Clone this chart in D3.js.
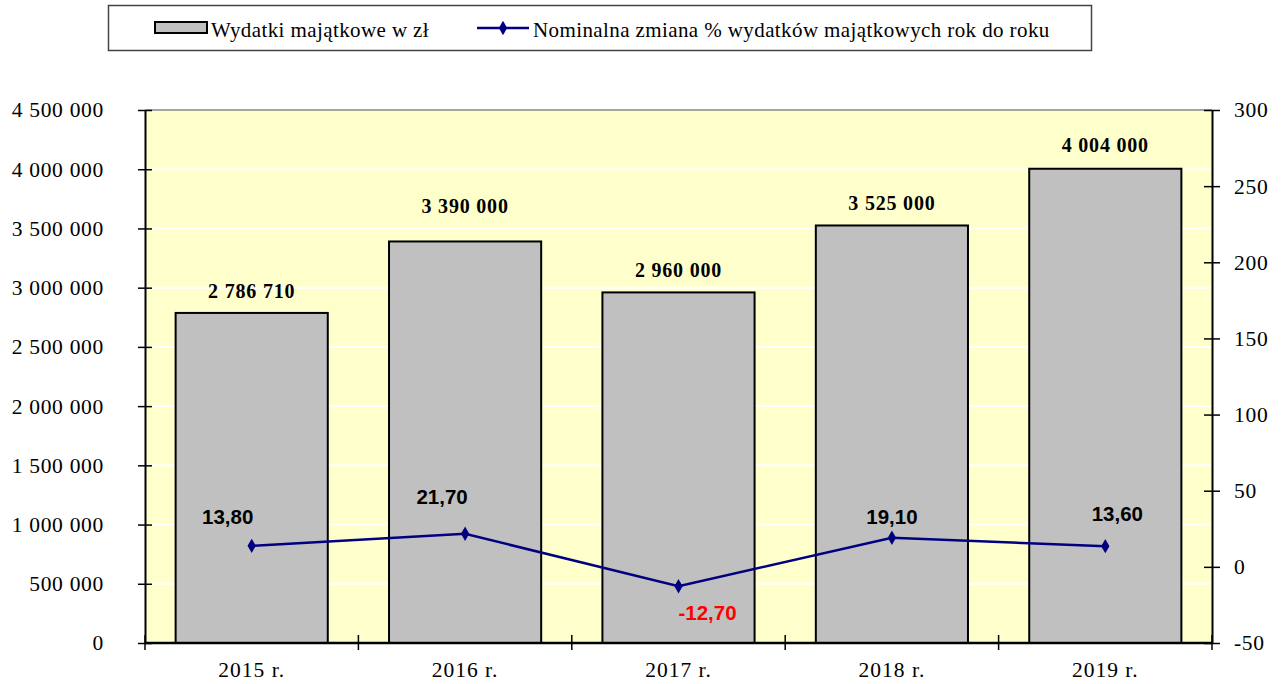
<!DOCTYPE html>
<html>
<head>
<meta charset="utf-8">
<script src="https://cdn.jsdelivr.net/npm/d3@7/dist/d3.min.js"></script>
<style>
  html, body { margin: 0; padding: 0; background: #ffffff; }
  svg { display: block; }
  .serif { font-family: "Liberation Serif", "Times New Roman", Times, serif; }
  .sans { font-family: "Liberation Sans", Arial, Helvetica, sans-serif; }
</style>
</head>
<body>
<svg id="chart" width="1285" height="684"></svg>
<script>
// Capital expenditure per year and its nominal year-over-year change
const years = ["2015 r.", "2016 r.", "2017 r.", "2018 r.", "2019 r."];
const spending = [2786710, 3390000, 2960000, 3525000, 4004000];
const changePct = [13.8, 21.7, -12.7, 19.1, 13.6];
const leftTicks = [0, 500000, 1000000, 1500000, 2000000, 2500000, 3000000, 3500000, 4000000, 4500000];
const rightTicks = [-50, 0, 50, 100, 150, 200, 250, 300];
const seriesNames = ["Wydatki majątkowe w zł", "Nominalna zmiana % wydatków majątkowych rok do roku"];

const svg = d3.select("#chart");
const plot = { left: 145, right: 1212, top: 110, bottom: 643 };

const x = d3.scaleBand().domain(years).range([plot.left, plot.right]).paddingInner(0.287).paddingOuter(0.1435);
const xBand = d3.scaleBand().domain(years).range([plot.left, plot.right]);
const yL = d3.scaleLinear().domain([0, 4500000]).range([plot.bottom, plot.top]);
const yR = d3.scaleLinear().domain([-50, 300]).range([plot.bottom, plot.top]);

const fmtSpace = v => d3.format(",")(v).replace(/,/g, "\u00a0");
const fmtComma = v => (v < 0 ? "-" : "") + d3.format(".2f")(Math.abs(v)).replace(".", ",");

// Plot background
svg.append("rect")
  .attr("x", plot.left).attr("y", plot.top)
  .attr("width", plot.right - plot.left).attr("height", plot.bottom - plot.top)
  .attr("fill", "#ffffcc");

// Horizontal gridlines
svg.append("g").selectAll("line").data(leftTicks.slice(1, -1)).join("line")
  .attr("x1", plot.left).attr("x2", plot.right)
  .attr("y1", d => yL(d)).attr("y2", d => yL(d))
  .attr("stroke", "#ffffff").attr("stroke-width", 2);

// Top border
svg.append("line")
  .attr("x1", plot.left).attr("x2", plot.right)
  .attr("y1", plot.top).attr("y2", plot.top)
  .attr("stroke", "#888888").attr("stroke-width", 1.5);

// Bars
svg.append("g").selectAll("rect").data(spending).join("rect")
  .attr("x", (d, i) => x(years[i]))
  .attr("y", d => yL(d))
  .attr("width", x.bandwidth())
  .attr("height", d => yL(0) - yL(d))
  .attr("fill", "#c0c0c0")
  .attr("stroke", "#000000").attr("stroke-width", 2);

// Left axis
const axL = svg.append("g").attr("transform", `translate(${plot.left},0)`)
  .call(d3.axisLeft(yL).tickValues(leftTicks).tickFormat(fmtSpace).tickSizeInner(7).tickSizeOuter(0).tickPadding(34));
axL.attr("font-family", null);
axL.selectAll(".tick line").attr("x2", 7).attr("x1", -7).attr("stroke-width", 1.5);
axL.select(".domain").attr("stroke-width", 2);
axL.selectAll("text").attr("class", "serif").attr("font-size", 21.5)
  .attr("letter-spacing", 0.7).attr("fill", "#000");

// Right axis
const axR = svg.append("g").attr("transform", `translate(${plot.right},0)`)
  .call(d3.axisRight(yR).tickValues(rightTicks).tickFormat(d => (d < 0 ? "-" : "") + Math.abs(d)).tickSizeInner(8).tickSizeOuter(0).tickPadding(14));
axR.attr("font-family", null);
axR.selectAll(".tick line").attr("x1", -8).attr("x2", 8).attr("stroke-width", 1.5);
axR.select(".domain").attr("stroke-width", 2);
axR.selectAll("text").attr("class", "serif").attr("font-size", 21.5)
  .attr("letter-spacing", 0.7).attr("fill", "#000");

// Bottom axis with ticks at category boundaries
const axB = svg.append("g").attr("transform", `translate(0,${plot.bottom})`);
axB.append("line").attr("x1", plot.left).attr("x2", plot.right).attr("stroke", "#000").attr("stroke-width", 2.5);
const bounds = years.map(c => xBand(c)).concat([plot.right]);
axB.selectAll("line.tk").data(bounds).join("line").attr("class", "tk")
  .attr("x1", d => d).attr("x2", d => d).attr("y1", -8).attr("y2", 7)
  .attr("stroke", "#000").attr("stroke-width", 1.5);
axB.selectAll("text").data(years).join("text")
  .attr("class", "serif")
  .attr("x", d => xBand(d) + xBand.bandwidth() / 2).attr("y", 34)
  .attr("text-anchor", "middle")
  .attr("font-size", 21.5).attr("letter-spacing", 1).text(d => d);

// Bar value labels
const barLabelLift = [22, 35, 22, 22, 24];
svg.append("g").selectAll("text").data(spending).join("text")
  .attr("class", "serif")
  .attr("x", (d, i) => x(years[i]) + x.bandwidth() / 2)
  .attr("y", (d, i) => yL(d) - barLabelLift[i] + 7)
  .attr("text-anchor", "middle")
  .attr("font-weight", "bold").attr("font-size", 20).attr("letter-spacing", 0.8)
  .text(d => fmtSpace(d));

// Percentage change line
const cx = i => xBand(years[i]) + xBand.bandwidth() / 2;
svg.append("path").datum(changePct)
  .attr("d", d3.line().x((d, i) => cx(i)).y(d => yR(d)))
  .attr("fill", "none").attr("stroke", "#000080").attr("stroke-width", 2.5);
svg.append("g").selectAll("path").data(changePct).join("path")
  .attr("transform", (d, i) => `translate(${cx(i)},${yR(d)})`)
  .attr("d", d3.symbol().type(d3.symbolDiamond).size(60))
  .attr("fill", "#000080");

// Percentage labels
const pctDx = [-24, -23, 29, 0, 12];
const pctDy = [-29, -37, 26, -21, -33];
svg.append("g").selectAll("text").data(changePct).join("text")
  .attr("class", "sans")
  .attr("x", (d, i) => cx(i) + pctDx[i])
  .attr("y", (d, i) => yR(d) + pctDy[i] + 7.5)
  .attr("text-anchor", "middle")
  .attr("font-weight", "bold").attr("font-size", 20.5)
  .attr("fill", d => d < 0 ? "#ff0000" : "#000000")
  .text(d => fmtComma(d));

// Legend
const lg = svg.append("g");
lg.append("rect").attr("x", 108.5).attr("y", 5.5).attr("width", 983).attr("height", 45)
  .attr("fill", "#fff").attr("stroke", "#444").attr("stroke-width", 1.5);
lg.append("rect").attr("x", 155).attr("y", 22).attr("width", 52).attr("height", 11)
  .attr("fill", "#c0c0c0").attr("stroke", "#000").attr("stroke-width", 2);
lg.append("text").attr("class", "serif").attr("x", 211).attr("y", 37).attr("font-size", 21)
  .attr("letter-spacing", 0.4).text(seriesNames[0]);
lg.append("line").attr("x1", 477).attr("x2", 529).attr("y1", 28).attr("y2", 28)
  .attr("stroke", "#000080").attr("stroke-width", 2.5);
lg.append("path").attr("transform", "translate(503,28)")
  .attr("d", d3.symbol().type(d3.symbolDiamond).size(60)).attr("fill", "#000080");
lg.append("text").attr("class", "serif").attr("x", 533).attr("y", 37).attr("font-size", 21)
  .attr("letter-spacing", 0.4).text(seriesNames[1]);
</script>
</body>
</html>
